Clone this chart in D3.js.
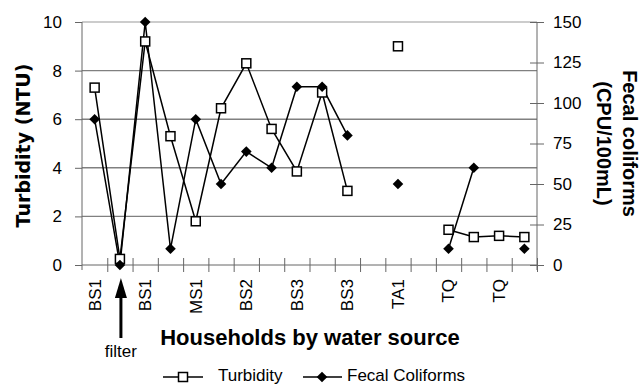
<!DOCTYPE html>
<html>
<head>
<meta charset="utf-8">
<script src="https://cdn.jsdelivr.net/npm/d3@7"></script>
<style>
	body { margin: 0; background: #fff; }
	svg { display: block; }
	text { font-family: "Liberation Sans", Arial, sans-serif; fill: #000; }
</style>
</head>
<body>
<div id="chart"></div>
<script>
// categorie (una per casa, le vuote non hanno etichetta)
const households = ["BS1", "", "BS1", "", "MS1", "", "BS2", "", "BS3", "", "BS3", "", "TA1", "", "TQ", "", "TQ", ""];
// torbidita' (NTU), null = nessun dato
const turbidity = [7.3, 0.25, 9.2, 5.3, 1.8, 6.45, 8.3, 5.6, 3.85, 7.1, 3.05, null, 9.0, null, 1.45, 1.15, 1.2, 1.15];
// coliformi fecali (CPU/100mL)
const fecal = [90, 0, 150, 10, 90, 50, 70, 60, 110, 110, 80, null, 50, null, 10, 60, null, 10];
const leftTicks = [0, 2, 4, 6, 8, 10];
const rightTicks = [0, 25, 50, 75, 100, 125, 150];

const W = 640, H = 386;
const plot = { left: 82, right: 537, top: 22, bottom: 265 };

const svg = d3.select("#chart").append("svg")
	.attr("width", W)
	.attr("height", H);

const x = d3.scaleBand()
	.domain(d3.range(households.length))
	.range([plot.left, plot.right]);
const xb = d3.scaleLinear()
	.domain([0, households.length])
	.range([plot.left, plot.right]);
const yL = d3.scaleLinear().domain([0, 10]).range([plot.bottom, plot.top]);
const yR = d3.scaleLinear().domain([0, 150]).range([plot.bottom, plot.top]);
const cx = i => x(i) + x.bandwidth() / 2;
const midY = (plot.top + plot.bottom) / 2;

// griglia orizzontale
svg.append("g")
	.selectAll("line")
	.data(leftTicks.slice(1))
	.enter().append("line")
	.attr("x1", plot.left).attr("x2", plot.right)
	.attr("y1", d => yL(d)).attr("y2", d => yL(d))
	.attr("stroke", d => d === 10 ? "#999" : "#808080")
	.attr("stroke-width", d => d === 10 ? 1 : 1.4);

// asse sinistro
const gL = svg.append("g")
	.attr("transform", "translate(" + plot.left + ",0)")
	.call(d3.axisLeft(yL).tickValues(leftTicks).tickSize(7).tickPadding(13));
gL.select(".domain").attr("stroke", "#666").attr("d", "M0," + plot.top + "V" + (plot.bottom + 5));
gL.selectAll(".tick line").attr("stroke", "#666");
gL.selectAll(".tick text").style("font-size", "17px").attr("fill", "#111");

// asse destro
const gR = svg.append("g")
	.attr("transform", "translate(" + plot.right + ",0)")
	.call(d3.axisRight(yR).tickValues(rightTicks).tickSize(7).tickPadding(9));
gR.select(".domain").attr("stroke", "#666").attr("d", "M0," + plot.top + "V" + (plot.bottom + 5));
gR.selectAll(".tick line").attr("stroke", "#666").attr("x1", -7);
gR.selectAll(".tick text").style("font-size", "17px").attr("fill", "#111");

// asse x con tacche sui confini delle categorie
const gX = svg.append("g")
	.attr("transform", "translate(0," + plot.bottom + ")")
	.call(d3.axisBottom(xb).tickValues(d3.range(1, households.length + 1)).tickSize(7).tickFormat(""));
gX.select(".domain").attr("stroke", "#666").attr("d", "M" + plot.left + ",0H" + plot.right);
gX.selectAll(".tick line").attr("stroke", "#666").attr("y1", -7);

// etichette delle case, ruotate
svg.append("g")
	.selectAll("text")
	.data(households.map((h, i) => ({ h, i })).filter(d => d.h))
	.enter().append("text")
	.attr("transform", d => "translate(" + cx(d.i) + ",279) rotate(-90)")
	.attr("dy", "0.35em")
	.attr("text-anchor", "end")
	.style("font-size", "17px")
	.text(d => d.h);

// linee
const lineT = d3.line()
	.defined(d => d != null)
	.x((d, i) => cx(i))
	.y(d => yL(d));
const lineF = d3.line()
	.defined(d => d != null)
	.x((d, i) => cx(i))
	.y(d => yR(d));

svg.append("path")
	.attr("d", lineT(turbidity))
	.attr("fill", "none").attr("stroke", "#000").attr("stroke-width", 1.5);
svg.append("path")
	.attr("d", lineF(fecal))
	.attr("fill", "none").attr("stroke", "#000").attr("stroke-width", 1.5);

const pts = arr => arr.map((v, i) => ({ v, i })).filter(d => d.v != null);

// quadrati vuoti per la torbidita'
svg.append("g")
	.selectAll("rect")
	.data(pts(turbidity))
	.enter().append("rect")
	.attr("x", d => cx(d.i) - 4.5)
	.attr("y", d => yL(d.v) - 4.5)
	.attr("width", 9).attr("height", 9)
	.attr("fill", "#fff").attr("stroke", "#000").attr("stroke-width", 1.5);

// rombi pieni per i coliformi
const diamond = d3.symbol().type(d3.symbolDiamond2).size(72);
svg.append("g")
	.selectAll("path")
	.data(pts(fecal))
	.enter().append("path")
	.attr("transform", d => "translate(" + cx(d.i) + "," + yR(d.v) + ")")
	.attr("d", diamond)
	.attr("fill", "#000");

// freccia "filter"
const fx = cx(1) + 1;
svg.append("line")
	.attr("x1", fx).attr("x2", fx)
	.attr("y1", 296).attr("y2", 338)
	.attr("stroke", "#000").attr("stroke-width", 3);
svg.append("path")
	.attr("d", "M" + fx + ",278L" + (fx - 6) + ",298L" + (fx + 6) + ",298Z")
	.attr("fill", "#000");
svg.append("text")
	.attr("x", fx).attr("y", 357)
	.attr("text-anchor", "middle")
	.style("font-size", "17px")
	.text("filter");

// titoli degli assi
svg.append("text")
	.attr("transform", "translate(23," + (midY + 2) + ") rotate(-90)")
	.attr("dy", "0.35em")
	.attr("text-anchor", "middle")
	.style("font-family", "'DejaVu Sans', sans-serif")
	.style("font-weight", "bold")
	.style("font-size", "19px")
	.text("Turbidity (NTU)");

svg.append("text")
	.attr("x", 310).attr("y", 345)
	.attr("text-anchor", "middle")
	.style("font-weight", "bold")
	.style("font-size", "22px")
	.text("Households by water source");

svg.append("text")
	.attr("transform", "translate(630," + midY + ") rotate(90)")
	.attr("dy", "0.35em")
	.attr("text-anchor", "middle")
	.style("font-weight", "bold")
	.style("font-size", "20px")
	.text("Fecal coliforms");
svg.append("text")
	.attr("transform", "translate(604," + midY + ") rotate(90)")
	.attr("dy", "0.35em")
	.attr("text-anchor", "middle")
	.style("font-weight", "bold")
	.style("font-size", "20px")
	.text("(CPU/100mL)");

// legenda (spostata appena in su per non tagliare il testo)
const leg = svg.append("g");
leg.append("line").attr("x1", 163).attr("x2", 203).attr("y1", 377).attr("y2", 377)
	.attr("stroke", "#000").attr("stroke-width", 1.5);
leg.append("rect").attr("x", 178.5).attr("y", 372.5).attr("width", 9).attr("height", 9)
	.attr("fill", "#fff").attr("stroke", "#000").attr("stroke-width", 1.5);
leg.append("text").attr("x", 218).attr("y", 381).style("font-size", "17px").text("Turbidity");
leg.append("line").attr("x1", 303).attr("x2", 342).attr("y1", 377).attr("y2", 377)
	.attr("stroke", "#000").attr("stroke-width", 1.5);
leg.append("path").attr("transform", "translate(322,377)").attr("d", diamond).attr("fill", "#000");
leg.append("text").attr("x", 347).attr("y", 381).style("font-size", "17px").text("Fecal Coliforms");
</script>
</body>
</html>
